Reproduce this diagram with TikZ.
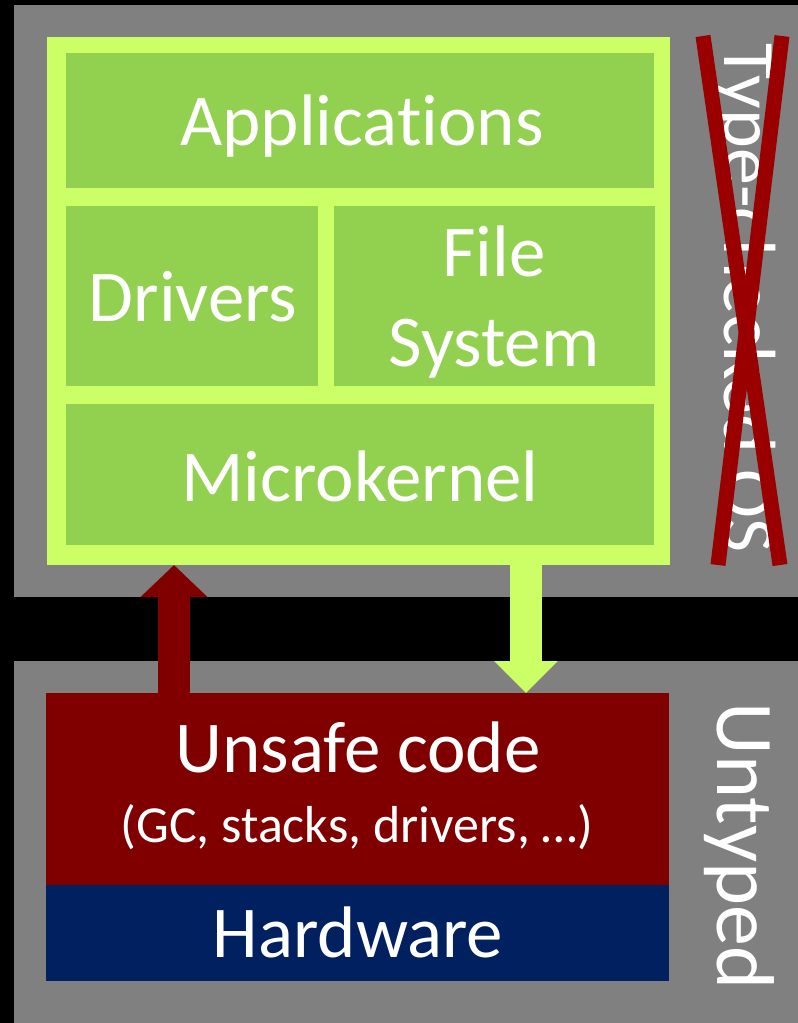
\documentclass[tikz,border=0pt]{standalone}
\usepackage{fontspec}
\setmainfont{Carlito}[Ligatures=NoCommon]
\usetikzlibrary{arrows.meta}

\definecolor{panelgray}{HTML}{808080}
\definecolor{limegreen}{HTML}{CCFF66}
\definecolor{leafgreen}{HTML}{92D050}
\definecolor{darkred}{HTML}{800000}
\definecolor{navyblue}{HTML}{002060}
\definecolor{crossred}{HTML}{9A0000}

\tikzset{
  block/.style={anchor=north west, inner sep=0pt, outer sep=0pt},
  panel/.style={block, fill=panelgray},
  layer/.style={block, fill=leafgreen},
  bigtext/.style={text=white, inner sep=0pt, anchor=base,
    font=\fontsize{73}{88}\selectfont},
  smalltext/.style={text=white, inner sep=0pt, anchor=base,
    font=\fontsize{52}{62}\selectfont},
  sidetext/.style={text=white, inner sep=0pt, rotate=-90, anchor=base},
  upflow/.style={draw=darkred, line width=32pt,
    -{Triangle[length=32pt,width=65pt]}},
  downflow/.style={draw=limegreen, line width=32pt,
    -{Triangle[length=32pt,width=62pt]}},
  crossline/.style={draw=crossred, line width=15pt},
}

\begin{document}
\begin{tikzpicture}[x=1pt,y=-1pt]
  \fill[black] (0,0) rectangle (798,1023);
  \useasboundingbox (0,0) rectangle (798,1023);

  % the two gray panels
  \node[panel, minimum width=784pt, minimum height=592pt] (typed) at (14,5) {};
  \node[panel, minimum width=784pt, minimum height=362pt] (untyped) at (14,661) {};

  % type-checked OS stack
  \node[block, fill=limegreen, minimum width=623pt, minimum height=528pt] (frame) at (47,37) {};
  \node[layer, minimum width=588pt, minimum height=135pt] (apps) at (66,53) {};
  \node[layer, minimum width=252pt, minimum height=180pt] (drivers) at (66,206) {};
  \node[layer, minimum width=321pt, minimum height=180pt] (fs) at (334,206) {};
  \node[layer, minimum width=588pt, minimum height=141pt] (kernel) at (66,404) {};

  \node[bigtext] (appslbl) at (362,145) {Applications};
  \node[bigtext] (driverslbl) at (193,321) {Drivers};
  \node[bigtext] (fslbl1) at (494,276) {File};
  \node[bigtext] (fslbl2) at (494,366) {System};
  \node[bigtext] (kernellbl) at (360,501) {Microkernel};

  % untyped part
  \node[block, fill=darkred, minimum width=623pt, minimum height=192pt] (unsafe) at (46,693) {};
  \node[block, fill=navyblue, minimum width=623pt, minimum height=96pt] (hw) at (46,885) {};
  \node[bigtext] (unsafelbl) at (358,772) {Unsafe code};
  \node[smalltext] (gclbl) at (357,842) {(GC, stacks, drivers, …)};
  \node[bigtext] (hwlbl) at (358,957) {Hardware};

  % flows between the layers
  \coordinate (upx) at (174,0);
  \coordinate (downx) at (526,0);
  \draw[upflow] (upx |- unsafe.north) -- (upx |- frame.south);
  \draw[downflow] (downx |- frame.south) -- (downx |- unsafe.north);

  % side captions
  \node[sidetext, font=\fontsize{74}{88}\selectfont] (oslbl) at (724,298) {Type-checked OS};
  \node[sidetext, font=\fontsize{82}{98}\selectfont] (untypedlbl) at (717,846) {Untyped};

  % crossed-out caption
  \coordinate (xa1) at (703,36);
  \coordinate (xa2) at (780,565);
  \coordinate (xb1) at (782,36);
  \coordinate (xb2) at (718,565);
  \draw[crossline] (xa1) -- (xa2);
  \draw[crossline] (xb1) -- (xb2);
\end{tikzpicture}
\end{document}
